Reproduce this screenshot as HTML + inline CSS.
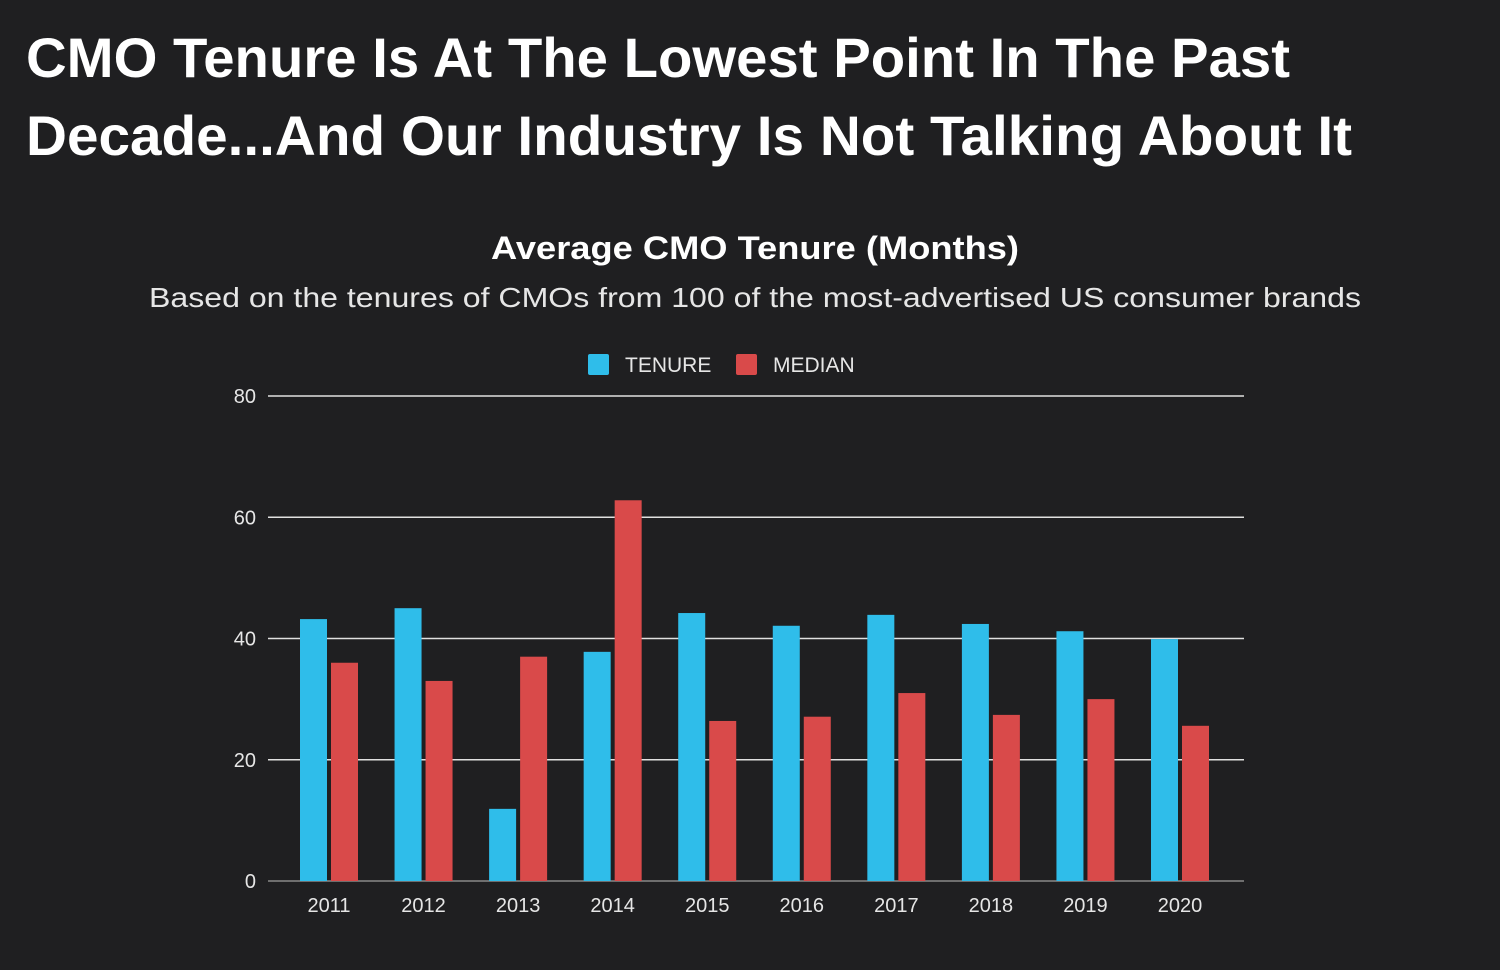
<!DOCTYPE html>
<html><head><meta charset="utf-8"><style>
html,body{margin:0;padding:0;background:#1f1f21;}
svg{display:block;font-family:"Liberation Sans",sans-serif;}
</style></head><body>
<svg id="chart" width="1500" height="970">
<rect x="0" y="0" width="1500" height="970" fill="#1f1f21"/>
<text x="26" y="77" fill="#fff" font-size="56" font-weight="bold" textLength="1264" lengthAdjust="spacingAndGlyphs">CMO Tenure Is At The Lowest Point In The Past</text>
<text x="26" y="155" fill="#fff" font-size="56" font-weight="bold" textLength="1326" lengthAdjust="spacingAndGlyphs">Decade...And Our Industry Is Not Talking About It</text>
<text x="755" y="259" fill="#fff" font-size="32" font-weight="bold" text-anchor="middle" textLength="528" lengthAdjust="spacingAndGlyphs">Average CMO Tenure (Months)</text>
<text x="755" y="307" fill="#e6e6e6" font-size="28" text-anchor="middle" textLength="1212" lengthAdjust="spacingAndGlyphs">Based on the tenures of CMOs from 100 of the most-advertised US consumer brands</text>
<g>
<rect x="588" y="354" width="21" height="21" rx="2" fill="#2fbdea"/>
<text x="625" y="372" fill="#e6e6e6" font-size="21">TENURE</text>
<rect x="736" y="354" width="21" height="21" rx="2" fill="#d94a4a"/>
<text x="773" y="372" fill="#e6e6e6" font-size="21">MEDIAN</text>
</g>
<g id="grid"></g>
<g id="bars"></g>
<g id="xlabels"></g>
</svg>
<script>
const years = ["2011","2012","2013","2014","2015","2016","2017","2018","2019","2020"];
const tenure = [43.2,45.0,11.9,37.8,44.2,42.1,43.9,42.4,41.2,39.9];
const median = [36.0,33.0,37.0,62.8,26.4,27.1,31.0,27.4,30.0,25.6];
const yTicks = [0,20,40,60,80];

const NS="http://www.w3.org/2000/svg";
const y0=881, yTop=396, yMax=80, left=268, right=1244;
const yScale=v=>y0-(v/yMax)*(y0-yTop);
const step=(1180-329)/9;
const xCenter=i=>329+i*step;
function mk(tag,attrs){const e=document.createElementNS(NS,tag);for(const k in attrs)e.setAttribute(k,attrs[k]);return e;}
const grid=document.getElementById('grid');
yTicks.forEach(t=>{
  const y=yScale(t);
  const l=mk('line',{x1:left,x2:right,y1:y,y2:y,stroke:t===0?'#888':'#e0e0e0','stroke-width':1.5});
  
  
  grid.appendChild(l);
  const tx=mk('text',{x:256,y:y+7,fill:'#e6e6e6','font-size':20,'text-anchor':'end'});
  tx.textContent=t;
  
  
  grid.appendChild(tx);
});
const bars=document.getElementById('bars'), xl=document.getElementById('xlabels');
const bw=27, gap=4;
years.forEach((yr,i)=>{
  const c=xCenter(i);
  const a=mk('rect',{x:c-gap/2-bw,y:yScale(tenure[i]),width:bw,height:y0-yScale(tenure[i]),fill:'#2fbdea'});
  
  
  bars.appendChild(a);
  const b=mk('rect',{x:c+gap/2,y:yScale(median[i]),width:bw,height:y0-yScale(median[i]),fill:'#d94a4a'});
  
  
  bars.appendChild(b);
  const t=mk('text',{x:c,y:912,fill:'#e6e6e6','font-size':20,'text-anchor':'middle'});
  t.textContent=yr;
  
  
  xl.appendChild(t);
});
</script>
</body></html>
